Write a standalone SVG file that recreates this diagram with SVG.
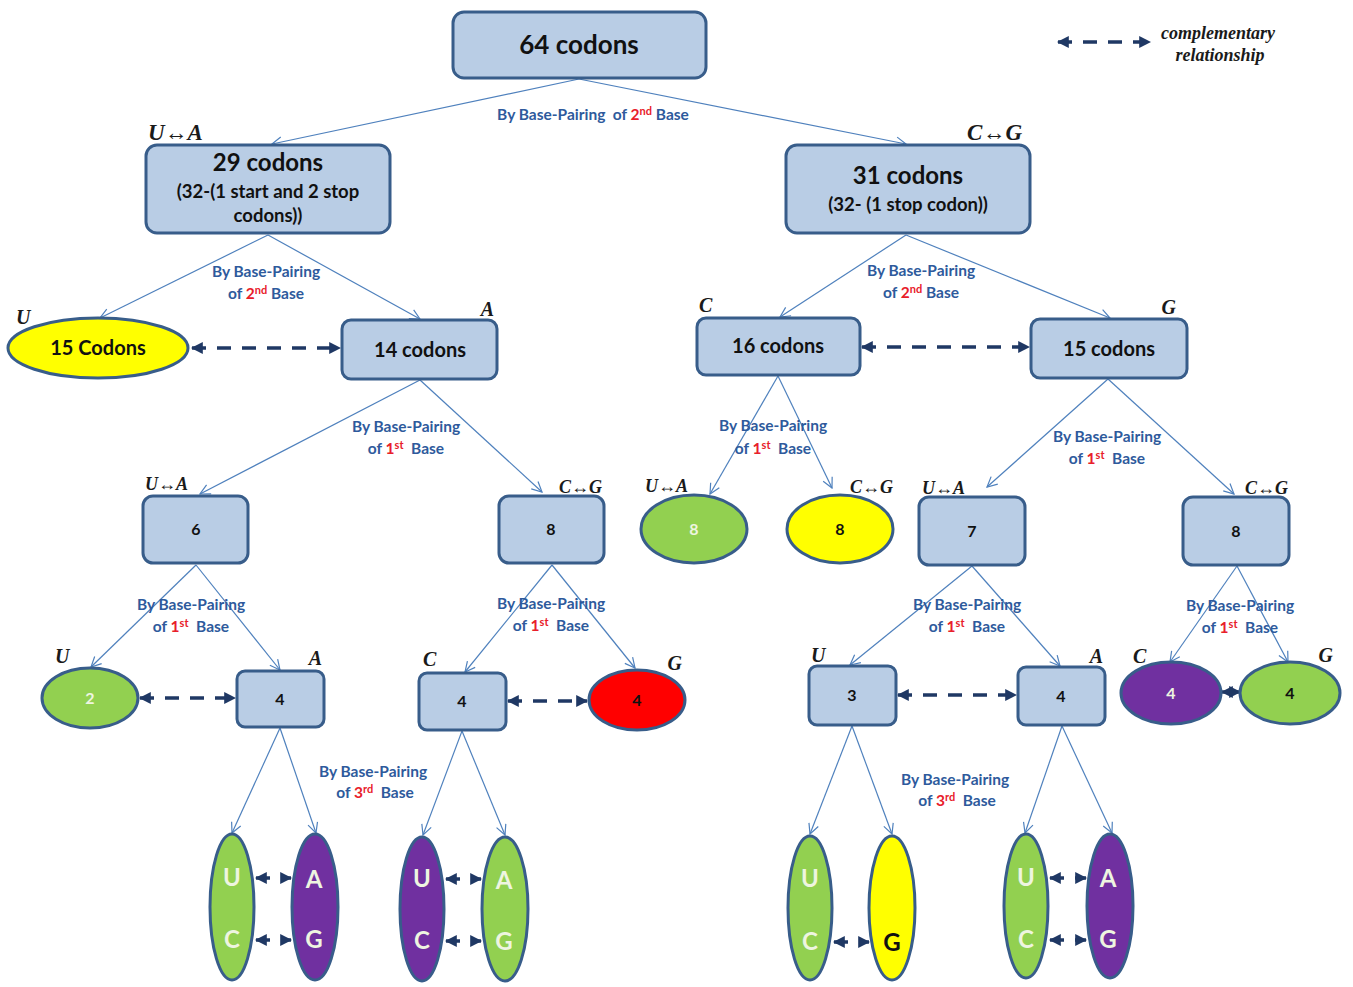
<svg xmlns="http://www.w3.org/2000/svg" width="1353" height="987" viewBox="0 0 1353 987">
<style>
.box{fill:#B9CDE5;stroke:#385D8A;stroke-width:3}
.ell{stroke:#385D8A;stroke-width:3}
.g{fill:#92D050}.y{fill:#FFFF00}.p{fill:#7030A0}.r{fill:#FF0000}
.t{font-family:Lato,"Open Sans",sans-serif;font-weight:bold;fill:#111;text-anchor:middle}
.w{fill:#EEF5E0}
.lbl{font-family:Lato,"Open Sans",sans-serif;font-weight:bold;font-size:15.5px;fill:#2E5A9C;text-anchor:middle}
.red{fill:#E8202A}
.it{font-family:"Liberation Serif",serif;font-style:italic;font-weight:bold;fill:#1a1a1a}
.conn{stroke:#4F81BD;stroke-width:1.2;fill:none}
.dash{stroke:#1F3864;stroke-width:3.5;stroke-dasharray:14 11;fill:none}
.solid{stroke:#1F3864;stroke-width:3.5;fill:none}
.leg{font-family:"Liberation Serif",serif;font-style:italic;font-weight:bold;font-size:18px;fill:#1a1a1a;text-anchor:middle}
</style>
<defs>
<marker id="open" viewBox="0 0 12 12" refX="11" refY="6" markerWidth="12" markerHeight="12" markerUnits="userSpaceOnUse" orient="auto">
<path d="M1,1 L11,6 L1,11" fill="none" stroke="#4F81BD" stroke-width="1.2"/>
</marker>
<marker id="fil" viewBox="0 0 10 10" refX="9" refY="5" markerWidth="12" markerHeight="12" markerUnits="userSpaceOnUse" orient="auto-start-reverse">
<path d="M0,0 L10,5 L0,10 Z" fill="#1F3864"/>
</marker>
</defs>
<rect width="1353" height="987" fill="#fff"/>

<g id="connectors">
<line class="conn" x1="579" y1="79" x2="272" y2="144" marker-end="url(#open)"/>
<line class="conn" x1="579" y1="79" x2="906" y2="144" marker-end="url(#open)"/>
<line class="conn" x1="268" y1="235" x2="100" y2="318" marker-end="url(#open)"/>
<line class="conn" x1="268" y1="235" x2="420" y2="319" marker-end="url(#open)"/>
<line class="conn" x1="906" y1="235" x2="780" y2="317" marker-end="url(#open)"/>
<line class="conn" x1="906" y1="235" x2="1110" y2="318" marker-end="url(#open)"/>
<line class="conn" x1="420" y1="380" x2="200" y2="494" marker-end="url(#open)"/>
<line class="conn" x1="420" y1="380" x2="542" y2="492" marker-end="url(#open)"/>
<line class="conn" x1="778" y1="376" x2="710" y2="494" marker-end="url(#open)"/>
<line class="conn" x1="778" y1="376" x2="832" y2="488" marker-end="url(#open)"/>
<line class="conn" x1="1108" y1="379" x2="987" y2="487" marker-end="url(#open)"/>
<line class="conn" x1="1108" y1="379" x2="1234" y2="494" marker-end="url(#open)"/>
<line class="conn" x1="196" y1="565" x2="91" y2="667" marker-end="url(#open)"/>
<line class="conn" x1="196" y1="565" x2="280" y2="670" marker-end="url(#open)"/>
<line class="conn" x1="552" y1="565" x2="465" y2="672" marker-end="url(#open)"/>
<line class="conn" x1="552" y1="565" x2="635" y2="668" marker-end="url(#open)"/>
<line class="conn" x1="972" y1="566" x2="850" y2="665" marker-end="url(#open)"/>
<line class="conn" x1="972" y1="566" x2="1060" y2="666" marker-end="url(#open)"/>
<line class="conn" x1="1237" y1="566" x2="1170" y2="662" marker-end="url(#open)"/>
<line class="conn" x1="1237" y1="566" x2="1288" y2="662" marker-end="url(#open)"/>
<line class="conn" x1="280" y1="728" x2="232" y2="833" marker-end="url(#open)"/>
<line class="conn" x1="280" y1="728" x2="316" y2="833" marker-end="url(#open)"/>
<line class="conn" x1="462" y1="731" x2="423" y2="835" marker-end="url(#open)"/>
<line class="conn" x1="462" y1="731" x2="505" y2="835" marker-end="url(#open)"/>
<line class="conn" x1="852" y1="726" x2="810" y2="834" marker-end="url(#open)"/>
<line class="conn" x1="852" y1="726" x2="892" y2="834" marker-end="url(#open)"/>
<line class="conn" x1="1062" y1="726" x2="1025" y2="833" marker-end="url(#open)"/>
<line class="conn" x1="1062" y1="726" x2="1112" y2="833" marker-end="url(#open)"/>

<line class="dash" x1="1058" y1="42" x2="1150" y2="42" marker-start="url(#fil)" marker-end="url(#fil)"/>
<line class="dash" x1="192" y1="348" x2="340" y2="348" marker-start="url(#fil)" marker-end="url(#fil)"/>
<line class="dash" x1="862" y1="347" x2="1029" y2="347" marker-start="url(#fil)" marker-end="url(#fil)"/>
<line class="dash" x1="140" y1="698" x2="235" y2="698" stroke-dasharray="12 9" marker-start="url(#fil)" marker-end="url(#fil)"/>
<line class="dash" x1="508" y1="701" x2="587" y2="701" stroke-dasharray="12 9" marker-start="url(#fil)" marker-end="url(#fil)"/>
<line class="dash" x1="898" y1="695" x2="1016" y2="695" marker-start="url(#fil)" marker-end="url(#fil)"/>
<line class="solid" x1="1222" y1="692" x2="1240" y2="692" stroke-width="3" marker-start="url(#fil)" marker-end="url(#fil)"/>
<line class="dash" x1="256" y1="878" x2="291" y2="878" stroke-dasharray="12 7" marker-start="url(#fil)" marker-end="url(#fil)"/>
<line class="dash" x1="256" y1="940" x2="291" y2="940" stroke-dasharray="12 7" marker-start="url(#fil)" marker-end="url(#fil)"/>
<line class="dash" x1="446" y1="879" x2="481" y2="879" stroke-dasharray="12 7" marker-start="url(#fil)" marker-end="url(#fil)"/>
<line class="dash" x1="446" y1="941" x2="481" y2="941" stroke-dasharray="12 7" marker-start="url(#fil)" marker-end="url(#fil)"/>
<line class="dash" x1="834" y1="942" x2="869" y2="942" stroke-dasharray="12 7" marker-start="url(#fil)" marker-end="url(#fil)"/>
<line class="dash" x1="1050" y1="878" x2="1086" y2="878" stroke-dasharray="12 7" marker-start="url(#fil)" marker-end="url(#fil)"/>
<line class="dash" x1="1050" y1="940" x2="1086" y2="940" stroke-dasharray="12 7" marker-start="url(#fil)" marker-end="url(#fil)"/>
</g>

<g id="legend">
<text class="leg" x="1218" y="39">complementary</text>
<text class="leg" x="1220" y="61">relationship</text>
</g>

<g id="edge-labels">
<text class="lbl" x="593" y="120">By Base-Pairing&#160; of <tspan class="red">2<tspan font-size="11" dy="-5">nd</tspan></tspan><tspan dy="5"> Base</tspan></text>
<text class="lbl" x="266" y="277">By Base-Pairing</text>
<text class="lbl" x="266" y="299">of <tspan class="red">2<tspan font-size="11" dy="-5">nd</tspan></tspan><tspan dy="5"> Base</tspan></text>
<text class="lbl" x="921" y="276">By Base-Pairing</text>
<text class="lbl" x="921" y="298">of <tspan class="red">2<tspan font-size="11" dy="-5">nd</tspan></tspan><tspan dy="5"> Base</tspan></text>
<text class="lbl" x="406" y="432">By Base-Pairing</text>
<text class="lbl" x="406" y="454">of <tspan class="red">1<tspan font-size="11" dy="-5">st</tspan></tspan><tspan dy="5">&#160; Base</tspan></text>
<text class="lbl" x="773" y="431">By Base-Pairing</text>
<text class="lbl" x="773" y="454">of <tspan class="red">1<tspan font-size="11" dy="-5">st</tspan></tspan><tspan dy="5">&#160; Base</tspan></text>
<text class="lbl" x="1107" y="442">By Base-Pairing</text>
<text class="lbl" x="1107" y="464">of <tspan class="red">1<tspan font-size="11" dy="-5">st</tspan></tspan><tspan dy="5">&#160; Base</tspan></text>
<text class="lbl" x="191" y="610">By Base-Pairing</text>
<text class="lbl" x="191" y="632">of <tspan class="red">1<tspan font-size="11" dy="-5">st</tspan></tspan><tspan dy="5">&#160; Base</tspan></text>
<text class="lbl" x="551" y="609">By Base-Pairing</text>
<text class="lbl" x="551" y="631">of <tspan class="red">1<tspan font-size="11" dy="-5">st</tspan></tspan><tspan dy="5">&#160; Base</tspan></text>
<text class="lbl" x="967" y="610">By Base-Pairing</text>
<text class="lbl" x="967" y="632">of <tspan class="red">1<tspan font-size="11" dy="-5">st</tspan></tspan><tspan dy="5">&#160; Base</tspan></text>
<text class="lbl" x="1240" y="611">By Base-Pairing</text>
<text class="lbl" x="1240" y="633">of <tspan class="red">1<tspan font-size="11" dy="-5">st</tspan></tspan><tspan dy="5">&#160; Base</tspan></text>
<text class="lbl" x="373" y="777">By Base-Pairing</text>
<text class="lbl" x="375" y="798">of <tspan class="red">3<tspan font-size="11" dy="-5">rd</tspan></tspan><tspan dy="5">&#160; Base</tspan></text>
<text class="lbl" x="955" y="785">By Base-Pairing</text>
<text class="lbl" x="957" y="806">of <tspan class="red">3<tspan font-size="11" dy="-5">rd</tspan></tspan><tspan dy="5">&#160; Base</tspan></text>
</g>

<g id="n64">
<rect class="box" x="453" y="12" width="253" height="66" rx="11"/>
<text class="t" x="579" y="54" font-size="26">64 codons</text>
</g>
<g id="n29">
<rect class="box" x="146" y="145" width="244" height="88" rx="11"/>
<text class="t" x="268" y="171" font-size="24">29 codons</text>
<text class="t" x="268" y="198" font-size="18.5">(32-(1 start and 2 stop</text>
<text class="t" x="268" y="222" font-size="18.5">codons))</text>
<text class="it" x="148" y="140" font-size="23">U↔A</text>
</g>
<g id="n31">
<rect class="box" x="786" y="145" width="244" height="88" rx="11"/>
<text class="t" x="908" y="184" font-size="24">31 codons</text>
<text class="t" x="908" y="211" font-size="18.5">(32- (1 stop codon))</text>
<text class="it" x="1022" y="140" font-size="23" text-anchor="end">C↔G</text>
</g>
<g id="n15codons">
<ellipse class="ell y" cx="98" cy="348" rx="90" ry="30"/>
<text class="t" x="98" y="355" font-size="20">15 Codons</text>
<text class="it" x="16" y="324" font-size="20">U</text>
</g>
<g id="n14">
<rect class="box" x="342" y="320" width="155" height="59" rx="9"/>
<text class="t" x="420" y="357" font-size="20">14 codons</text>
<text class="it" x="494" y="316" font-size="20" text-anchor="end">A</text>
</g>
<g id="n16">
<rect class="box" x="697" y="318" width="163" height="57" rx="9"/>
<text class="t" x="778" y="353" font-size="20">16 codons</text>
<text class="it" x="699" y="312" font-size="20">C</text>
</g>
<g id="n15">
<rect class="box" x="1031" y="319" width="156" height="59" rx="9"/>
<text class="t" x="1109" y="356" font-size="20">15 codons</text>
<text class="it" x="1176" y="314" font-size="20" text-anchor="end">G</text>
</g>
<g id="n6">
<rect class="box" x="143" y="496" width="105" height="67" rx="10"/>
<text class="t" x="196" y="535" font-size="16">6</text>
<text class="it" x="145" y="490" font-size="18" font-weight="normal">U↔A</text>
</g>
<g id="n8a">
<rect class="box" x="499" y="496" width="105" height="67" rx="10"/>
<text class="t" x="551" y="535" font-size="16">8</text>
<text class="it" x="602" y="493" font-size="18" font-weight="normal" text-anchor="end">C↔G</text>
</g>
<g id="n8green">
<ellipse class="ell g" cx="694" cy="529" rx="53" ry="34"/>
<text class="t w" x="694" y="535" font-size="16">8</text>
<text class="it" x="645" y="492" font-size="18" font-weight="normal">U↔A</text>
</g>
<g id="n8yellow">
<ellipse class="ell y" cx="840" cy="529" rx="53" ry="34"/>
<text class="t" x="840" y="535" font-size="16">8</text>
<text class="it" x="893" y="493" font-size="18" font-weight="normal" text-anchor="end">C↔G</text>
</g>
<g id="n7">
<rect class="box" x="919" y="497" width="106" height="68" rx="10"/>
<text class="t" x="972" y="537" font-size="16">7</text>
<text class="it" x="922" y="494" font-size="18" font-weight="normal">U↔A</text>
</g>
<g id="n8b">
<rect class="box" x="1183" y="497" width="106" height="68" rx="10"/>
<text class="t" x="1236" y="537" font-size="16">8</text>
<text class="it" x="1288" y="494" font-size="18" font-weight="normal" text-anchor="end">C↔G</text>
</g>
<g id="n2">
<ellipse class="ell g" cx="90" cy="698" rx="48" ry="30"/>
<text class="t w" x="90" y="704" font-size="16">2</text>
<text class="it" x="55" y="663" font-size="20">U</text>
</g>
<g id="n4a">
<rect class="box" x="237" y="671" width="87" height="56" rx="8"/>
<text class="t" x="280" y="705" font-size="16">4</text>
<text class="it" x="322" y="665" font-size="20" text-anchor="end">A</text>
</g>
<g id="n4b">
<rect class="box" x="419" y="673" width="87" height="57" rx="8"/>
<text class="t" x="462" y="707" font-size="16">4</text>
<text class="it" x="423" y="666" font-size="20">C</text>
</g>
<g id="n4red">
<ellipse class="ell r" cx="637" cy="700" rx="48" ry="30"/>
<text class="t" x="637" y="706" font-size="16" fill="#4a1010">4</text>
<text class="it" x="682" y="670" font-size="20" text-anchor="end">G</text>
</g>
<g id="n3">
<rect class="box" x="809" y="666" width="87" height="59" rx="8"/>
<text class="t" x="852" y="701" font-size="16">3</text>
<text class="it" x="811" y="662" font-size="20">U</text>
</g>
<g id="n4c">
<rect class="box" x="1018" y="667" width="87" height="58" rx="8"/>
<text class="t" x="1061" y="702" font-size="16">4</text>
<text class="it" x="1103" y="663" font-size="20" text-anchor="end">A</text>
</g>
<g id="n4purple">
<ellipse class="ell p" cx="1171" cy="693" rx="50" ry="31"/>
<text class="t w" x="1171" y="699" font-size="16">4</text>
<text class="it" x="1133" y="663" font-size="20">C</text>
</g>
<g id="n4green">
<ellipse class="ell g" cx="1290" cy="693" rx="50" ry="31"/>
<text class="t" x="1290" y="699" font-size="16">4</text>
<text class="it" x="1333" y="662" font-size="20" text-anchor="end">G</text>
</g>

<g id="uc1">
<ellipse class="ell g" cx="232" cy="907" rx="22" ry="73"/>
<text class="t w" x="232" y="886" font-size="24">U</text>
<text class="t w" x="232" y="948" font-size="24">C</text>
</g>
<g id="ag1">
<ellipse class="ell p" cx="315" cy="907" rx="23" ry="73"/>
<text class="t w" x="314" y="888" font-size="24">A</text>
<text class="t w" x="314" y="948" font-size="24">G</text>
</g>
<g id="uc2">
<ellipse class="ell p" cx="422" cy="909" rx="22" ry="72"/>
<text class="t w" x="422" y="887" font-size="24">U</text>
<text class="t w" x="422" y="949" font-size="24">C</text>
</g>
<g id="ag2">
<ellipse class="ell g" cx="505" cy="909" rx="23" ry="72"/>
<text class="t w" x="504" y="889" font-size="24">A</text>
<text class="t w" x="504" y="950" font-size="24">G</text>
</g>
<g id="uc3">
<ellipse class="ell g" cx="810" cy="908" rx="22" ry="72"/>
<text class="t w" x="810" y="887" font-size="24">U</text>
<text class="t w" x="810" y="950" font-size="24">C</text>
</g>
<g id="g3">
<ellipse class="ell y" cx="892" cy="908" rx="23" ry="72"/>
<text class="t" x="892" y="951" font-size="24">G</text>
</g>
<g id="uc4">
<ellipse class="ell g" cx="1026" cy="906" rx="22" ry="72"/>
<text class="t w" x="1026" y="886" font-size="24">U</text>
<text class="t w" x="1026" y="948" font-size="24">C</text>
</g>
<g id="ag4">
<ellipse class="ell p" cx="1110" cy="906" rx="23" ry="72"/>
<text class="t w" x="1108" y="887" font-size="24">A</text>
<text class="t w" x="1108" y="948" font-size="24">G</text>
</g>
</svg>
